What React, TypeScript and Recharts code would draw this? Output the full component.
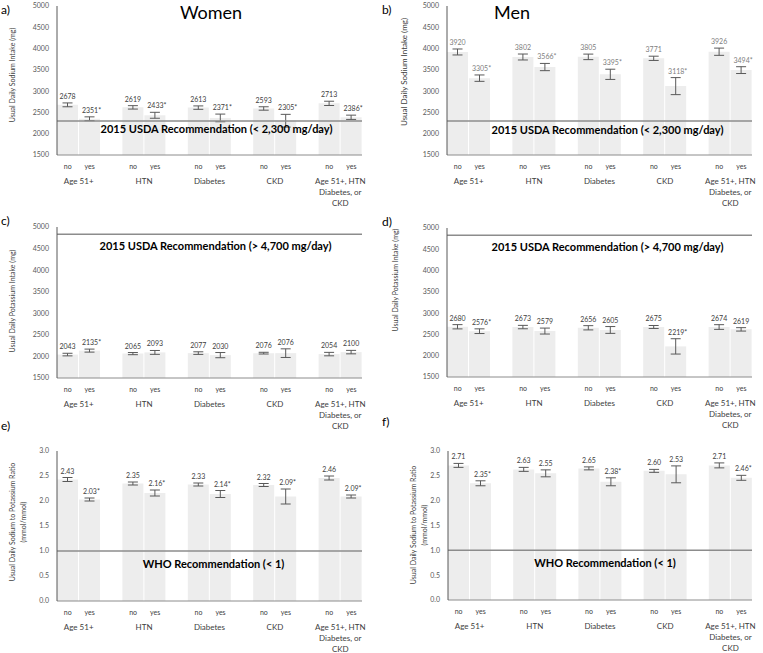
import { BarChart, Bar, XAxis, YAxis, ErrorBar, LabelList, ReferenceLine } from "recharts";

const FONT = "Lato, 'Open Sans', sans-serif";

const groups = ["Age 51+", "HTN", "Diabetes", "CKD", "Age 51+, HTN\nDiabetes, or\nCKD"];

const mgTicks = [1500, 2000, 2500, 3000, 3500, 4000, 4500, 5000];
const ratioTicks = [0, 0.5, 1, 1.5, 2, 2.5, 3];

// a) women, sodium
const womenSodiumNo = [2678, 2619, 2613, 2593, 2713];
const womenSodiumYes = [2351, 2433, 2371, 2305, 2386];
const womenSodiumNoErr = [45, 40, 40, 40, 50];
const womenSodiumYesErr = [45, 70, 90, 150, 50];
const womenSodiumSig = [true, true, true, true, true];

// b) men, sodium
const menSodiumNo = [3920, 3802, 3805, 3771, 3926];
const menSodiumYes = [3305, 3566, 3395, 3118, 3494];
const menSodiumNoErr = [70, 70, 65, 50, 85];
const menSodiumYesErr = [75, 85, 120, 200, 80];
const menSodiumSig = [true, true, true, true, true];

// c) women, potassium
const womenPotNo = [2043, 2065, 2077, 2076, 2054];
const womenPotYes = [2135, 2093, 2030, 2076, 2100];
const womenPotNoErr = [30, 25, 30, 20, 40];
const womenPotYesErr = [35, 45, 60, 100, 40];
const womenPotSig = [true, false, false, false, false];

// d) men, potassium
const menPotNo = [2680, 2673, 2656, 2675, 2674];
const menPotYes = [2576, 2579, 2605, 2219, 2619];
const menPotNoErr = [50, 40, 50, 35, 55];
const menPotYesErr = [55, 70, 80, 180, 40];
const menPotSig = [true, false, false, true, false];

// e) women, Na/K ratio
const womenRatioNo = [2.43, 2.35, 2.33, 2.32, 2.46];
const womenRatioYes = [2.03, 2.16, 2.14, 2.09, 2.09];
const womenRatioNoErr = [0.04, 0.03, 0.03, 0.03, 0.04];
const womenRatioYesErr = [0.03, 0.06, 0.07, 0.15, 0.03];
const womenRatioSig = [true, true, true, true, true];

// f) men, Na/K ratio
const menRatioNo = [2.71, 2.63, 2.65, 2.6, 2.71];
const menRatioYes = [2.35, 2.55, 2.38, 2.53, 2.46];
const menRatioNoErr = [0.04, 0.04, 0.03, 0.03, 0.05];
const menRatioYesErr = [0.05, 0.07, 0.08, 0.17, 0.05];
const menRatioSig = [true, false, true, false, true];

const panels = [
  {
    no: womenSodiumNo, yes: womenSodiumYes, noErr: womenSodiumNoErr, yesErr: womenSodiumYesErr, sig: womenSodiumSig,
    domain: [1500, 5000], ticks: mgTicks, decimals: 0, ref: 2300,
    refLabel: "2015 USDA Recommendation (< 2,300 mg/day)",
    plot: { left: 57, top: 6, right: 362, bottom: 155 }, labelColor: "#404040", refDx: 7, refDy: 8,
  },
  {
    no: menSodiumNo, yes: menSodiumYes, noErr: menSodiumNoErr, yesErr: menSodiumYesErr, sig: menSodiumSig,
    domain: [1500, 5000], ticks: mgTicks, decimals: 0, ref: 2300,
    refLabel: "2015 USDA Recommendation (< 2,300 mg/day)",
    plot: { left: 447, top: 6, right: 752, bottom: 155 }, labelColor: "#808080", refDx: 8, refDy: 9,
  },
  {
    no: womenPotNo, yes: womenPotYes, noErr: womenPotNoErr, yesErr: womenPotYesErr, sig: womenPotSig,
    domain: [1500, 5000], ticks: mgTicks, decimals: 0, ref: 4830,
    refLabel: "2015 USDA Recommendation (> 4,700 mg/day)",
    plot: { left: 57, top: 227, right: 362, bottom: 378 }, labelColor: "#404040", refDx: 6, refDy: 11,
  },
  {
    no: menPotNo, yes: menPotYes, noErr: menPotNoErr, yesErr: menPotYesErr, sig: menPotSig,
    domain: [1500, 5000], ticks: mgTicks, decimals: 0, ref: 4830,
    refLabel: "2015 USDA Recommendation (> 4,700 mg/day)",
    plot: { left: 447, top: 228, right: 752, bottom: 377 }, labelColor: "#404040", refDx: 8, refDy: 11,
  },
  {
    no: womenRatioNo, yes: womenRatioYes, noErr: womenRatioNoErr, yesErr: womenRatioYesErr, sig: womenRatioSig,
    domain: [0, 3], ticks: ratioTicks, decimals: 2, ref: 1,
    refLabel: "WHO Recommendation (< 1)",
    plot: { left: 57, top: 451, right: 362, bottom: 601 }, labelColor: "#404040", refDx: 4, refDy: 12,
  },
  {
    no: menRatioNo, yes: menRatioYes, noErr: menRatioNoErr, yesErr: menRatioYesErr, sig: menRatioSig,
    domain: [0, 3], ticks: ratioTicks, decimals: 2, ref: 1,
    refLabel: "WHO Recommendation (< 1)",
    plot: { left: 448, top: 451, right: 752, bottom: 600 }, labelColor: "#404040", refDx: 5, refDy: 12,
  },
];

type PanelDef = (typeof panels)[number];

const YW = 57;
const MT = 6;
const XH = 62;

const GroupTick = (props: any) => {
  const { x, y, payload } = props;
  const lines = String(payload.value).split("\n");
  const st = { fontFamily: FONT, fill: "#404040" };
  return (
    <g>
      <text x={x - 11} y={y + 11} textAnchor="middle" dominantBaseline="central" fontSize={7} {...st}>no</text>
      <text x={x + 11} y={y + 11} textAnchor="middle" dominantBaseline="central" fontSize={7} {...st}>yes</text>
      {lines.map((l, i) => (
        <text key={i} x={x} y={y + 26 + i * 11} textAnchor="middle" dominantBaseline="central" fontSize={8} {...st}>
          {l}
        </text>
      ))}
    </g>
  );
};

const makeLabel = (p: PanelDef, series: "no" | "yes") => (props: any) => {
  const vb = props.viewBox || {};
  const x = props.x ?? vb.x;
  const y = props.y ?? vb.y;
  const width = props.width ?? vb.width;
  const height = props.height ?? vb.height;
  const index = props.index;
  const v = series === "no" ? p.no[index] : p.yes[index];
  const err = series === "no" ? p.noErr[index] : p.yesErr[index];
  const k = height / (v - p.domain[0]);
  const top = y - err * k;
  const sig = series === "yes" && p.sig[index];
  const txt = v.toFixed(p.decimals) + (sig ? "*" : "");
  return (
    <text x={x + width / 2 + (sig ? 2 : 0)} y={top - 4} textAnchor="middle" fontSize={7} fill={p.labelColor} fontFamily={FONT}>
      {txt}
    </text>
  );
};

const RefText = (props: any) => {
  const vb = props.viewBox || {};
  return (
    <text
      x={vb.x + vb.width / 2 + props.dx0}
      y={vb.y + props.dy0}
      textAnchor="middle"
      dominantBaseline="central"
      fontSize={11}
      fontWeight="bold"
      fill="#000"
      fontFamily={FONT}
    >
      {props.text}
    </text>
  );
};

function Panel({ p }: { p: PanelDef }) {
  const data = groups.map((g, i) => ({
    group: g,
    no: p.no[i],
    yes: p.yes[i],
    noErr: p.noErr[i],
    yesErr: p.yesErr[i],
  }));
  const plotW = p.plot.right - p.plot.left;
  const plotH = p.plot.bottom - p.plot.top;
  return (
    <div style={{ position: "absolute", left: p.plot.left - YW, top: p.plot.top - MT }}>
      <BarChart
        width={YW + plotW + 8}
        height={MT + plotH + XH}
        data={data}
        margin={{ top: MT, right: 8, left: 0, bottom: 0 }}
        barGap={1}
        barSize={21}
      >
        <XAxis
          dataKey="group"
          height={XH}
          padding={{ left: -11, right: -11 }}
          axisLine={{ stroke: "#8c8c8c" }}
          tickLine={false}
          tickSize={0}
          tickMargin={0}
          interval={0}
          tick={<GroupTick />}
        />
        <YAxis
          width={YW}
          type="number"
          domain={p.domain}
          ticks={p.ticks}
          interval={0}
          allowDataOverflow
          axisLine={{ stroke: "#595959" }}
          tickLine={false}
          tickSize={0}
          tickMargin={8}
          tick={{ fontSize: 7, fill: "#595959", fontFamily: FONT }}
          tickFormatter={(v: number) => (p.decimals ? v.toFixed(1) : String(v))}
        />
        <Bar dataKey="no" fill="#ededed" isAnimationActive={false}>
          <ErrorBar dataKey="noErr" width={5} stroke="#595959" strokeWidth={1} direction="y" />
          <LabelList dataKey="no" content={makeLabel(p, "no")} />
        </Bar>
        <Bar dataKey="yes" fill="#ededed" isAnimationActive={false}>
          <ErrorBar dataKey="yesErr" width={5} stroke="#595959" strokeWidth={1} direction="y" />
          <LabelList dataKey="yes" content={makeLabel(p, "yes")} />
        </Bar>
        <ReferenceLine
          y={p.ref}
          stroke="#8c8c8c"
          strokeWidth={1.5}
          label={<RefText text={p.refLabel} dx0={p.refDx} dy0={p.refDy} />}
        />
      </BarChart>
    </div>
  );
}

const yTitles = [
  { lines: ["Usual Daily Sodium Intake (mg)"], x: 12, y: 75, size: 7 },
  { lines: ["Usual Daily Sodium Intake (mg)"], x: 404, y: 72, size: 8 },
  { lines: ["Usual Daily Potassium Intake (mg)"], x: 12, y: 301, size: 7 },
  { lines: ["Usual Daily Potassium Intake (mg)"], x: 395, y: 280, size: 7 },
  { lines: ["Usual Daily Sodium to Potassium Ratio", "(mmol/mmol)"], x: 12, y: 522, size: 7 },
  { lines: ["Usual Daily Sodium to Potassium Ratio", "(mmol/mmol)"], x: 413, y: 525, size: 7 },
];

const letters = [
  { t: "a)", x: 1, y: 9 },
  { t: "b)", x: 382, y: 9 },
  { t: "c)", x: 1, y: 220 },
  { t: "d)", x: 382, y: 221 },
  { t: "e)", x: 1, y: 425 },
  { t: "f)", x: 382, y: 421 },
];

export default function App() {
  return (
    <div style={{ position: "absolute", left: 0, top: 0, width: 763, height: 653, background: "#fff", overflow: "hidden" }}>
      {panels.map((p, i) => (
        <Panel key={i} p={p} />
      ))}
      <svg width={763} height={653} style={{ position: "absolute", left: 0, top: 0, pointerEvents: "none" }}>
        <text x={211} y={12} textAnchor="middle" dominantBaseline="central" fontSize={18} fontFamily={FONT} fill="#000">
          Women
        </text>
        <text x={512} y={12} textAnchor="middle" dominantBaseline="central" fontSize={18} fontFamily={FONT} fill="#000">
          Men
        </text>
        {letters.map((l) => (
          <text key={l.t} x={l.x} y={l.y} dominantBaseline="central" fontSize={12} fontFamily={FONT} fill="#000">
            {l.t}
          </text>
        ))}
        {yTitles.map((t, i) => (
          <g key={i} transform={`translate(${t.x + (t.lines.length - 1) * 5.5 * 0}, ${t.y}) rotate(-90)`}>
            {t.lines.map((line, j) => (
              <text
                key={j}
                x={0}
                y={j * 10.5}
                textAnchor="middle"
                dominantBaseline="central"
                fontSize={t.size}
                fontFamily={FONT}
                fill="#404040"
              >
                {line}
              </text>
            ))}
          </g>
        ))}
      </svg>
    </div>
  );
}
